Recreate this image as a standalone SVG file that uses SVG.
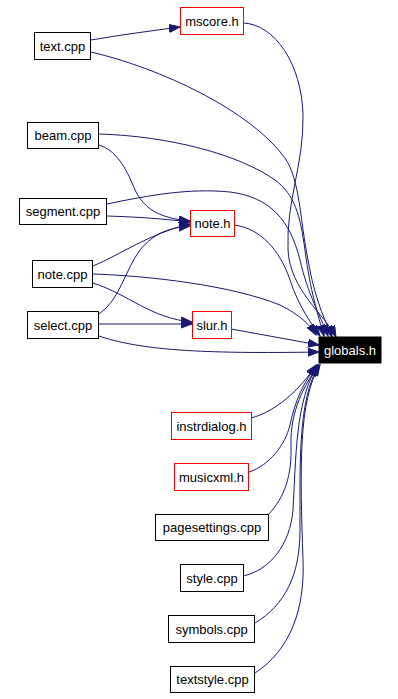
<svg xmlns="http://www.w3.org/2000/svg" width="398" height="699" viewBox="0 0 398 699">
  <style>
    .node rect { fill: #ffffff; stroke: #000000; stroke-width: 1; }
    .node.hdr rect { stroke: #ff0000; }
    .node.root rect { fill: #000000; stroke: #000000; }
    .node text { font-family: "Liberation Sans", Arial, sans-serif; font-size: 13px; text-anchor: middle; fill: #000000; }
    .node.root text { fill: #ffffff; }
    .edges path { fill: none; stroke: #191970; stroke-width: 1; marker-end: url(#arrow); }
  </style>
  <defs>
    <marker id="arrow" markerUnits="userSpaceOnUse" markerWidth="13" markerHeight="10" refX="11" refY="4" orient="auto">
      <path d="M0,0 L11,4 L0,8 z" fill="#191970" stroke="#191970" stroke-width="1"/>
    </marker>
  </defs>

  <g class="edges">
    <!-- into mscore.h -->
    <path d="M91,40 C120,35 150,31 180,27"/>
    <!-- into note.h -->
    <path d="M99,145 C115,150 125,165 135,190 C145,210 160,218 190,221"/>
    <path d="M107,216 C140,217 165,219 190,222"/>
    <path d="M93,266 C120,255 150,233 190,224"/>
    <path d="M99,314 C120,300 125,270 140,250 C155,232 170,228 190,226"/>
    <!-- into slur.h -->
    <path d="M93,283 C130,295 150,318 192,322"/>
    <path d="M99,324 L192,324"/>
    <!-- into globals.h from above -->
    <path d="M93,274 C150,276 230,285 280,305 C300,315 310,325 316,335"/>
    <path d="M234,225 C260,228 280,250 290,280 C298,305 312,325 320,336"/>
    <path d="M99,134 C170,136 240,155 275,180 C295,195 300,215 305,250 C310,290 318,315 324,336"/>
    <path d="M107,204 C150,195 190,188 230,192 C270,197 290,220 300,260 C308,295 320,315 328,336"/>
    <path d="M91,52 C160,68 250,110 285,158 C300,180 300,220 308,260 C315,300 325,320 332,337"/>
    <path d="M243,23 C275,24 302,65 303,115 C304,165 286,200 288,250 C290,290 325,315 336,337"/>
    <!-- into globals.h from the left -->
    <path d="M231,329 C260,334 290,340 319,345"/>
    <path d="M99,336 C140,350 200,354 319,352"/>
    <!-- into globals.h from below -->
    <path d="M251,418 C275,412 300,390 316,365"/>
    <path d="M249,472 C270,465 285,445 290,425 C295,400 305,380 317,365"/>
    <path d="M268,515 C285,497 292,475 291,445 C290,410 305,385 318,365"/>
    <path d="M243,576 C270,570 290,545 293,510 C296,460 295,400 318,365"/>
    <path d="M255,623 C285,605 300,575 300,530 C300,460 298,400 319,365"/>
    <path d="M255,673 C290,650 305,610 303,560 C300,470 298,400 320,365"/>
  </g>

  <g id="node-mscore_h" class="node hdr"><rect x="180.5" y="7.5" width="63" height="27"/><text x="212" y="25.5">mscore.h</text></g>
  <g id="node-text_cpp" class="node"><rect x="34.5" y="32.5" width="56" height="27"/><text x="62.5" y="50.5">text.cpp</text></g>
  <g id="node-beam_cpp" class="node"><rect x="27.5" y="122.5" width="71" height="26"/><text x="63" y="140">beam.cpp</text></g>
  <g id="node-segment_cpp" class="node"><rect x="19.5" y="198.5" width="87" height="26"/><text x="63" y="216">segment.cpp</text></g>
  <g id="node-note_h" class="node hdr"><rect x="190.5" y="210.5" width="44" height="26"/><text x="212.5" y="228">note.h</text></g>
  <g id="node-note_cpp" class="node"><rect x="32.5" y="260.5" width="60" height="27"/><text x="62.5" y="278.5">note.cpp</text></g>
  <g id="node-select_cpp" class="node"><rect x="27.5" y="311.5" width="71" height="27"/><text x="63" y="329.5">select.cpp</text></g>
  <g id="node-slur_h" class="node hdr"><rect x="192.5" y="311.5" width="39" height="27"/><text x="212" y="329.5">slur.h</text></g>
  <g id="node-globals_h" class="node root"><rect x="319" y="337" width="62" height="26"/><text x="350" y="355">globals.h</text></g>
  <g id="node-instrdialog_h" class="node hdr"><rect x="171.5" y="412.5" width="80" height="27"/><text x="211.5" y="430.5">instrdialog.h</text></g>
  <g id="node-musicxml_h" class="node hdr"><rect x="174.5" y="463.5" width="74" height="27"/><text x="211.5" y="481.5">musicxml.h</text></g>
  <g id="node-pagesettings_cpp" class="node"><rect x="155.5" y="514.5" width="113" height="26"/><text x="212" y="532">pagesettings.cpp</text></g>
  <g id="node-style_cpp" class="node"><rect x="180.5" y="564.5" width="63" height="27"/><text x="212" y="582.5">style.cpp</text></g>
  <g id="node-symbols_cpp" class="node"><rect x="168.5" y="615.5" width="86" height="27"/><text x="211.5" y="633.5">symbols.cpp</text></g>
  <g id="node-textstyle_cpp" class="node"><rect x="170.5" y="666.5" width="84" height="26"/><text x="212.5" y="684">textstyle.cpp</text></g>
</svg>
